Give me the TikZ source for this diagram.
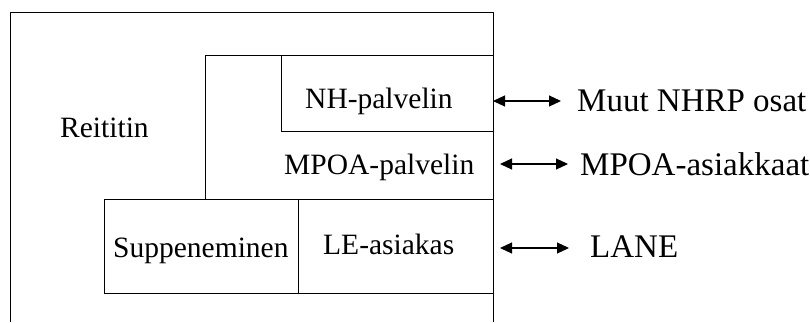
\documentclass[tikz,border=0pt]{standalone}
\usepackage{fontspec}
\setmainfont{Liberation Serif}
\usetikzlibrary{arrows.meta}
\begin{document}
\begin{tikzpicture}[x=1pt,y=-1pt,
  frame/.style={draw=black,line width=1pt},
  boxnode/.style={frame,anchor=north west,inner sep=0pt,outer sep=0pt},
  inlabel/.style={anchor=base west,inner sep=0pt,font=\fontsize{29.5}{34}\selectfont},
  outlabel/.style={anchor=base west,inner sep=0pt,font=\fontsize{33}{38}\selectfont},
  headtip/.style={},
  dblarrow/.style={line width=1.1pt,{Triangle[length=12pt,width=11pt]}-{Triangle[length=12pt,width=11pt]}}]
\useasboundingbox (0,0) rectangle (810,322);

% router frame, open at the bottom
\draw[frame] (10,322) -- (10,12) -- (493,12) -- (493,322);
\node[inlabel] (reititin) at (60,137) {Reititin};

% MPOA server with the NH server inside it
\node[boxnode,minimum width=288pt,minimum height=144pt] (mpoa) at (205,55) {};
\node[boxnode,minimum width=212pt,minimum height=76pt] (nh) at (281,55) {};
\node[inlabel] (nhlabel) at (305,108) {NH-palvelin};
\node[inlabel] (mpoalabel) at (284,174) {MPOA-palvelin};

% bottom row: convergence and LE client
\node[boxnode,minimum width=194pt,minimum height=94pt] (supp) at (104,199) {};
\node[boxnode,minimum width=195pt,minimum height=94pt] (le) at (298,199) {};
\node[inlabel] (supplabel) at (113,257) {Suppeneminen};
\node[inlabel] (lelabel) at (323,254) {LE-asiakas};

% external peers
\node[outlabel] (muut) at (577,111) {Muut NHRP osat};
\node[outlabel] (asiakkaat) at (580,175) {MPOA-asiakkaat};
\node[outlabel] (lane) at (590,257) {LANE};

\coordinate (a1s) at (493,101);
\coordinate (a1e) at (561,101);
\coordinate (a2s) at (500,164);
\coordinate (a2e) at (568,164);
\coordinate (a3s) at (500,248);
\coordinate (a3e) at (569,248);
\draw[dblarrow] (a1s) -- (a1e);
\draw[dblarrow] (a2s) -- (a2e);
\draw[dblarrow] (a3s) -- (a3e);
\end{tikzpicture}
\end{document}
